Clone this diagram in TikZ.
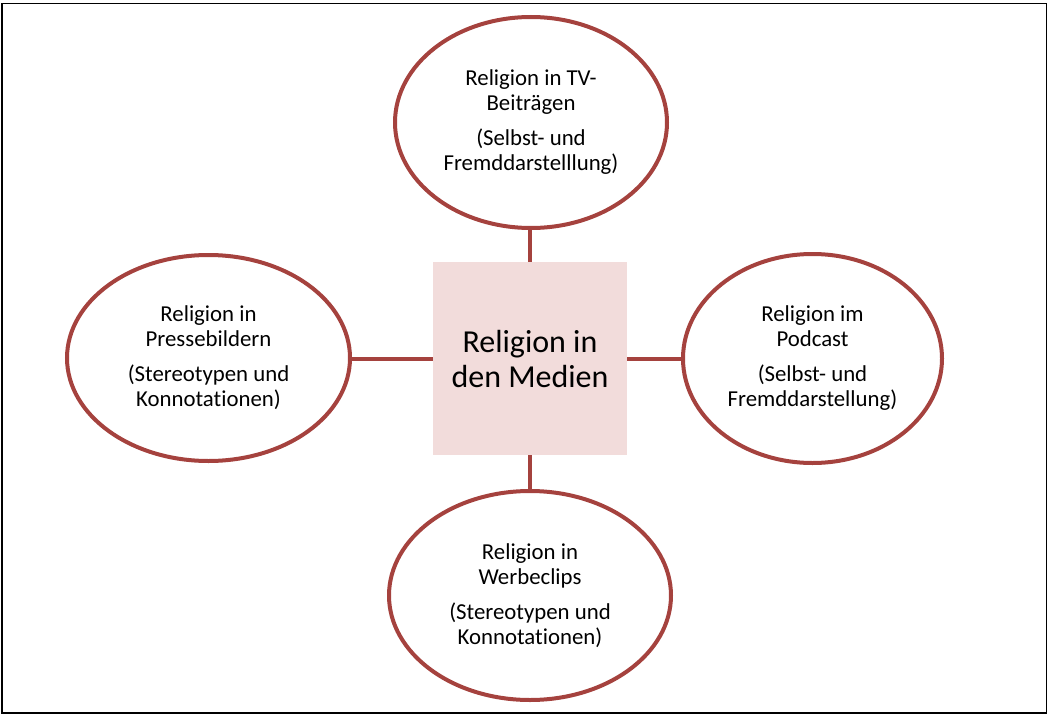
\documentclass[tikz,border=0pt]{standalone}
\usepackage{fontspec}
\setmainfont[Ligatures=NoCommon]{Carlito}
\usetikzlibrary{shapes.geometric}
\definecolor{ring}{RGB}{165,66,62}
\definecolor{boxfill}{RGB}{242,220,219}
\begin{document}
\begin{tikzpicture}[x=1pt,y=-1pt,
  ell/.style={ellipse, draw=ring, line width=4pt, inner sep=0pt, align=center,
    font=\fontsize{22.8}{25}\selectfont},
  hub/.style={rectangle, fill=boxfill, draw=none, inner sep=0pt, align=center,
    minimum width=194pt, minimum height=193pt, font=\fontsize{32}{35}\selectfont},
  link/.style={draw=ring, line width=4pt}]
\useasboundingbox (0,0) rectangle (1050,717);
\draw[line width=1.6pt] (1.8,3.5) rectangle (1046.5,713);
\node[hub] (c) at (530,358.5) {Religion in\\den Medien};
\node[ell, minimum width=272pt, minimum height=211pt] (top) at (531,122.5)
  {Religion in TV-\\Beiträgen\\[10pt](Selbst- und\\Fremddarstelllung)};
\node[ell, minimum width=283pt, minimum height=206pt] (left) at (208.5,358)
  {Religion in\\Pressebildern\\[10pt](Stereotypen und\\Konnotationen)};
\node[ell, minimum width=259pt, minimum height=209pt] (right) at (812.5,358.5)
  {Religion im\\Podcast\\[10pt](Selbst- und\\Fremddarstellung)};
\node[ell, minimum width=282pt, minimum height=209pt] (bottom) at (530,595.5)
  {Religion in\\Werbeclips\\[10pt](Stereotypen und\\Konnotationen)};
\draw[link] (c.north) -- (c.north |- top.south);
\draw[link] (c.south) -- (c.south |- bottom.north);
\draw[link] (c.west) -- (c.west -| left.east);
\draw[link] (c.east) -- (c.east -| right.west);
\end{tikzpicture}
\end{document}
